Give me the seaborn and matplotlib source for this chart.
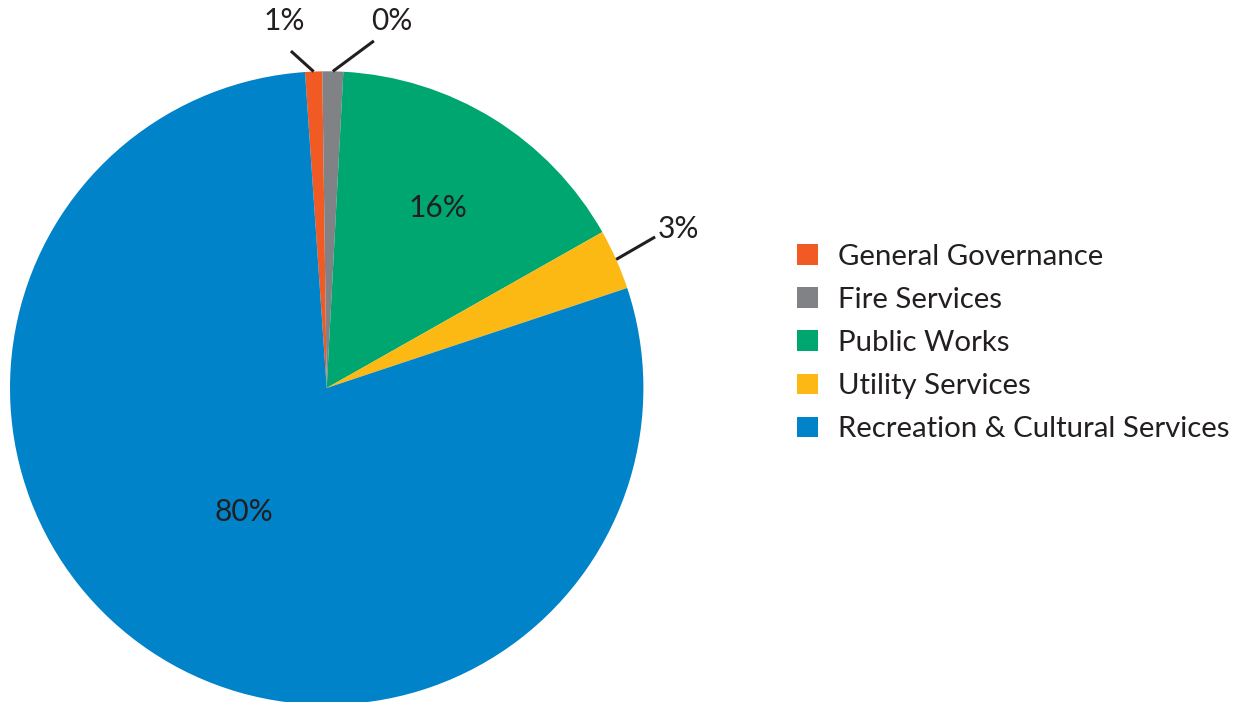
import numpy as np
import matplotlib
matplotlib.use("Agg")
import matplotlib.pyplot as plt
import matplotlib.patches as mpatches
import seaborn as sns

# Share of spending by service area
categories = ["General Governance", "Fire Services", "Public Works",
              "Utility Services", "Recreation & Cultural Services"]
shares = [0.87, 1.06, 15.97, 3.08, 79.02]
pct_labels = ["1%", "0%", "16%", "3%", "80%"]
colors = ["#F15A22", "#808285", "#00A66F", "#FDB913", "#0083C9"]

sns.set_theme(style="white")
plt.rcParams["font.family"] = ["Lato", "DejaVu Sans"]
TEXT = "#231F20"

W, H, DPI = 1243, 702, 100
fig = plt.figure(figsize=(W / DPI, H / DPI), dpi=DPI)
fig.patch.set_facecolor("white")

# pie axes: centre (326.7, 388) px, radius 316.7 px
cx, cy, r = 326.7, 388.0, 316.7
ax = fig.add_axes([(cx - r) / W, (H - cy - r) / H, 2 * r / W, 2 * r / H])

start = 93.93
wedges, _ = ax.pie(shares, colors=colors, startangle=start, counterclock=False,
                   radius=1.0, wedgeprops=dict(linewidth=0))
ax.set_xlim(-1, 1)
ax.set_ylim(-1, 1)
ax.set_aspect("equal")
ax.axis("off")

# angle (deg, matplotlib convention) at the middle of each wedge
mids = [0.5 * (w.theta1 + w.theta2) for w in wedges]

fs_lab = 21.5
fs_leg = 21.2

# labels placed inside the large wedges
for i, rad in [(2, 0.67), (4, 0.47)]:
    a = np.deg2rad(mids[i])
    ax.text(rad * np.cos(a), rad * np.sin(a), pct_labels[i], ha="center",
            va="center", fontsize=fs_lab, color=TEXT)

# labels outside with leader lines: (index, leader end, text position)
outside = [
    (0, (-0.113, 1.064), (-0.135, 1.160)),
    (1, (0.149, 1.096), (0.206, 1.160)),
    (3, (1.037, 0.477), (1.112, 0.501)),
]
for i, (lx, ly), (tx, ty) in outside:
    a = np.deg2rad(mids[i])
    ax.plot([np.cos(a), lx], [np.sin(a), ly], color=TEXT, lw=2.2,
            solid_capstyle="butt", clip_on=False)
    ax.text(tx, ty, pct_labels[i], ha="center", va="center", fontsize=fs_lab,
            color=TEXT, clip_on=False)

handles = [mpatches.Patch(facecolor=c, edgecolor="none", label=l)
           for c, l in zip(colors, categories)]
fig.legend(handles=handles, loc="upper left",
           bbox_to_anchor=(797 / W, 1 - 244 / H), frameon=False,
           fontsize=fs_leg, handlelength=0.71, handleheight=0.71,
           handletextpad=0.68, labelspacing=0.58, borderpad=0,
           borderaxespad=0, labelcolor=TEXT)

fig.savefig("out.png", dpi=DPI, facecolor="white")
